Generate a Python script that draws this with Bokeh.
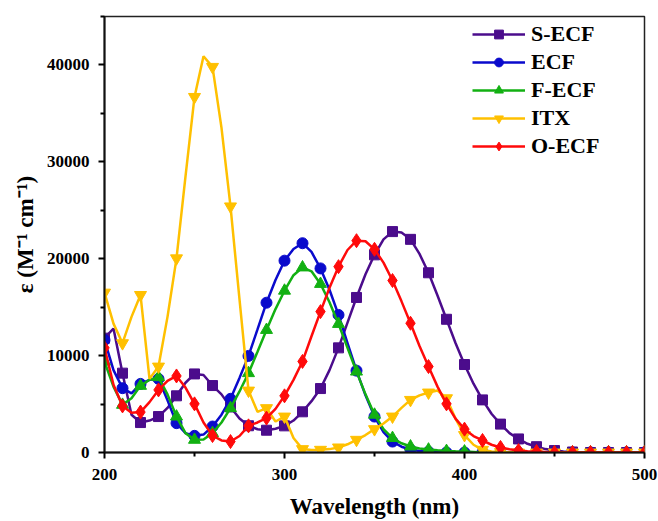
from bokeh.plotting import figure
from bokeh.models import FixedTicker, NumeralTickFormatter, Legend, LegendItem, Range1d
from bokeh.embed import file_html
from bokeh.resources import INLINE

wavelength = list(range(200, 505, 5))

s_ecf = [11800, 12800, 8190, 3900, 3090, 3300, 3710, 4600, 5850, 7200,
         8110, 8000, 6910, 6000, 4700, 3500, 2760, 2400, 2300, 2450,
         2750, 3300, 4200, 5300, 6600, 8500, 10800, 13400, 16000, 18400,
         20400, 22000, 22800, 22700, 22000, 20500, 18550, 16200, 13750, 11300,
         9080, 7100, 5430, 4000, 2930, 2000, 1400, 900, 600, 350,
         200, 100, 50, 0, 0, 0, 0, 0, 0, 0, 0]
ecf = [11600, 8500, 6640, 6100, 7080, 7500, 7600, 5400, 3030, 2000,
       1720, 1850, 2680, 3900, 5540, 7700, 9970, 12700, 15460, 17800,
       19800, 21000, 21600, 20700, 19000, 16800, 14200, 11300, 8450, 5900,
       3710, 2100, 1130, 600, 300, 150, 80, 40, 0, 0,
       0, 0, 0, 0, 0, 0, 0, 0, 0, 0, 0, 0, 0, 0, 0, 0, 0, 0, 0, 0, 0]
f_ecf = [9380, 6800, 4920, 5600, 6880, 7500, 7770, 6000, 3710, 2000,
         1310, 1350, 2000, 3100, 4580, 6300, 8190, 10400, 12650, 14800,
         16700, 18300, 19100, 18700, 17400, 15500, 13270, 10800, 8350, 6000,
         3900, 2400, 1490, 950, 620, 420, 300, 220, 150, 120,
         100, 50, 0, 0, 0, 0, 0, 0, 0, 0, 0, 0, 0, 0, 0, 0, 0, 0, 0, 0, 0]
itx = [16500, 13300, 11280, 14000, 16260, 7600, 8870, 14000, 20040, 28500,
       36700, 40900, 39800, 33500, 25400, 15800, 6390, 4200, 4580, 3200,
       3710, 1500, 350, 250, 280, 350, 520, 850, 1310, 1800,
       2410, 3000, 3710, 4600, 5430, 5900, 6190, 6400, 5600, 3500,
       1800, 800, 280, 100, 50, 0, 0, 0, 0, 0, 0, 0, 0, 0, 0, 0, 0, 0, 0, 0, 0]
o_ecf = [10800, 7000, 4810, 4100, 4170, 5200, 6460, 7400, 7900, 6700,
         5020, 3100, 1750, 1250, 1130, 1700, 2750, 3100, 3550, 4500,
         5850, 7500, 9400, 12000, 14540, 17000, 19180, 20900, 21860, 21800,
         20970, 19600, 17750, 15600, 13340, 11000, 8870, 6800, 5020, 3500,
         2410, 1700, 1240, 800, 520, 330, 200, 130, 100, 60,
         0, 0, 0, 0, 0, 0, 0, 0, 0, 0, 0]

names = ["S-ECF", "ECF", "F-ECF", "ITX", "O-ECF"]
colors = ["#4B0C8C", "#0A0ACC", "#12B012", "#FFC000", "#FF0A0A"]
markers = ["square", "circle", "triangle", "inverted_triangle", "diamond"]
sizes = [10, 11, 12, 12, 14]
series = [s_ecf, ecf, f_ecf, itx, o_ecf]

x_ticks = [200, 300, 400, 500]
x_minor = [250, 350, 450]
y_ticks = [0, 10000, 20000, 30000, 40000]
y_minor = [5000, 15000, 25000, 35000, 45000]

FONT = "'Liberation Serif', 'Times New Roman', Times, serif"

p = figure(width=658, height=521, output_backend="svg", toolbar_location=None,
           x_range=Range1d(200, 500), y_range=Range1d(0, 45000),
           min_border_left=104, min_border_right=14, min_border_top=16, min_border_bottom=68)
p.xgrid.visible = False
p.ygrid.visible = False
p.outline_line_color = "#222222"
p.outline_line_width = 1.5
p.background_fill_color = "white"
p.border_fill_color = "white"

items = []
for name, col, mk, sz, vals in zip(names, colors, markers, sizes, series):
    r1 = p.line(wavelength, vals, line_color=col, line_width=2.5)
    r2 = p.scatter(wavelength[::2], vals[::2], marker=mk, size=sz,
                   fill_color=col, line_color=col)
    items.append(LegendItem(label=name, renderers=[r1, r2]))

legend = Legend(items=items, location=(368, 293), padding=0, margin=0,
                border_line_color=None, background_fill_alpha=0,
                glyph_width=53, glyph_height=22, label_height=22, spacing=2,
                label_standoff=6,
                label_text_font=FONT, label_text_font_style="bold",
                label_text_font_size="22px", label_text_color="black")
p.add_layout(legend, "center")

for ax in (p.xaxis[0], p.yaxis[0]):
    ax.axis_line_width = 2
    ax.axis_line_color = "#111111"
    ax.major_tick_line_width = 2
    ax.minor_tick_line_width = 2
    ax.major_tick_in = 0
    ax.major_tick_out = 6
    ax.minor_tick_in = 0
    ax.minor_tick_out = 4
    ax.major_label_text_font = FONT
    ax.major_label_text_font_style = "bold"
    ax.major_label_text_font_size = "17px"
    ax.major_label_text_color = "black"
    ax.axis_label_text_font = FONT
    ax.axis_label_text_font_style = "bold"
    ax.axis_label_text_font_size = "23px"
    ax.axis_label_text_color = "black"

p.xaxis.ticker = FixedTicker(ticks=x_ticks, minor_ticks=x_minor)
p.yaxis.ticker = FixedTicker(ticks=y_ticks, minor_ticks=y_minor)
p.yaxis.formatter = NumeralTickFormatter(format="0")
p.xaxis.axis_label = "Wavelength (nm)"
p.yaxis.axis_label = "ε (M⁻¹ cm⁻¹)"
p.xaxis.major_label_standoff = 10
p.yaxis.major_label_standoff = 9
p.xaxis.axis_label_standoff = 11
p.yaxis.axis_label_standoff = 6

open("out.html", "w").write(file_html(p, INLINE))
